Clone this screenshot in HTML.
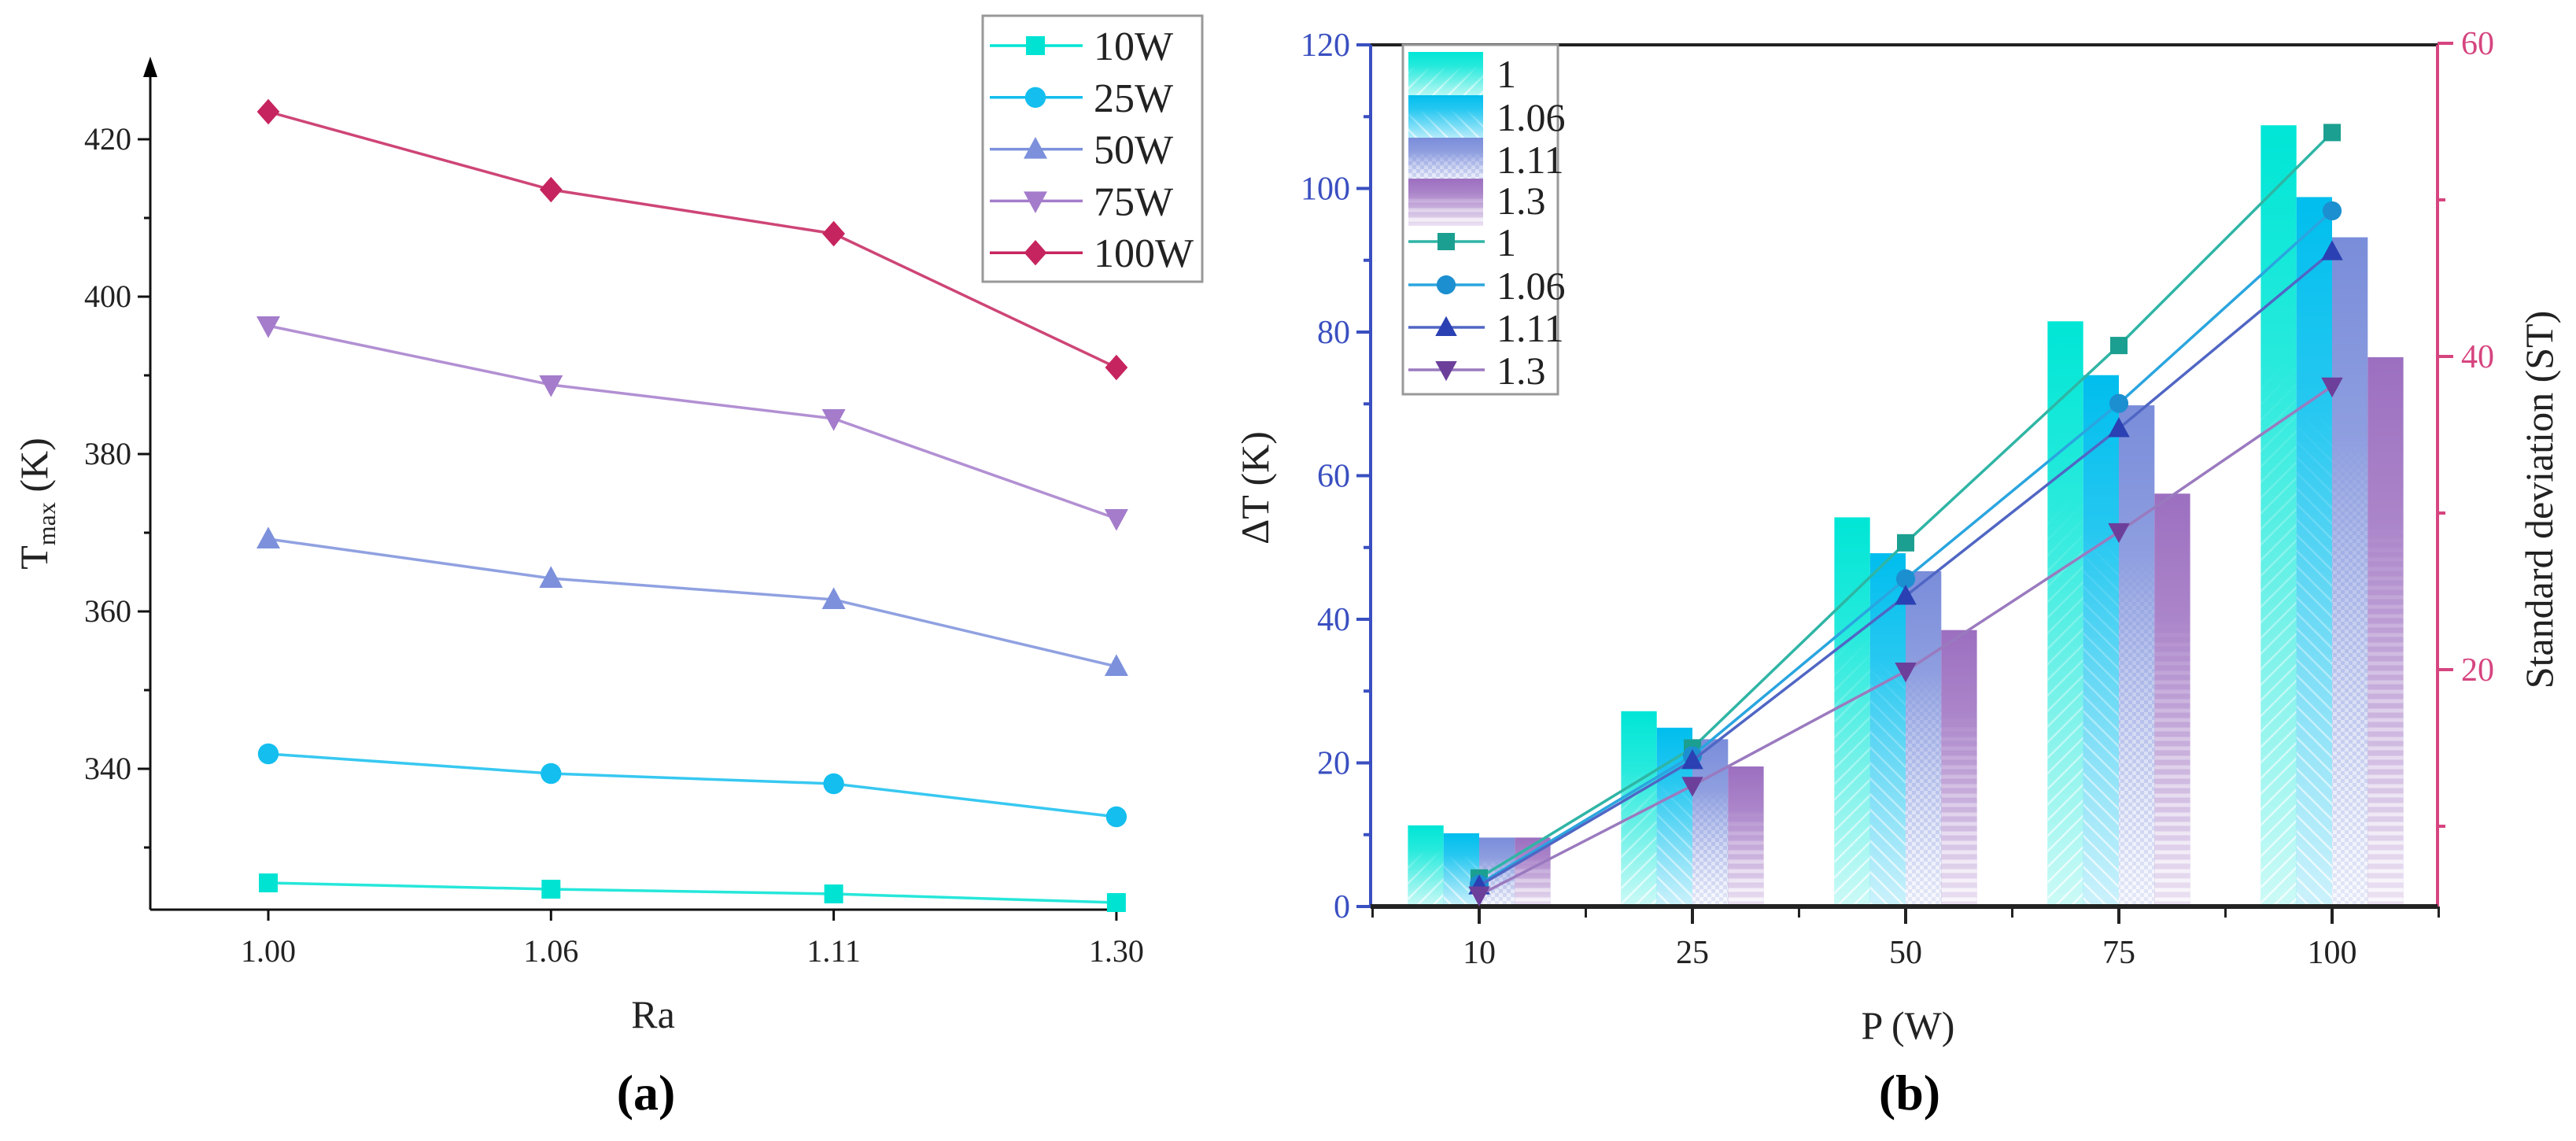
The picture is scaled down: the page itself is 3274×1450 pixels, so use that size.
<!DOCTYPE html>
<html><head><meta charset="utf-8">
<style>
html,body{margin:0;padding:0;background:#fff;}
svg{display:block;font-family:"Liberation Serif",serif;}
</style></head>
<body>
<svg id="fig" width="3274" height="1450" viewBox="0 0 3274 1450" xmlns="http://www.w3.org/2000/svg">
<defs>
  <pattern id="hatchA" width="14" height="14" patternUnits="userSpaceOnUse" patternTransform="rotate(45)">
    <rect width="14" height="14" fill="none"/><line x1="0" y1="0" x2="0" y2="14" stroke="#fff" stroke-width="5"/>
  </pattern>
  <pattern id="hatchB" width="14" height="14" patternUnits="userSpaceOnUse" patternTransform="rotate(-45)">
    <line x1="0" y1="0" x2="0" y2="14" stroke="#fff" stroke-width="5"/>
  </pattern>
  <pattern id="hatchC" width="10" height="10" patternUnits="userSpaceOnUse">
    <rect x="0" y="0" width="5" height="5" fill="#fff"/><rect x="5" y="5" width="5" height="5" fill="#fff"/>
  </pattern>
  <pattern id="hatchD" width="12" height="12" patternUnits="userSpaceOnUse">
    <line x1="0" y1="3" x2="12" y2="3" stroke="#fff" stroke-width="5"/>
  </pattern>
  <linearGradient id="hatchFade" x1="0" y1="0" x2="0" y2="1">
    <stop offset="0" stop-color="#000"/>
    <stop offset="0.3" stop-color="#000"/>
    <stop offset="1" stop-color="#fff"/>
  </linearGradient>
  <linearGradient id="fadeW" x1="0" y1="0" x2="0" y2="1">
    <stop offset="0" stop-color="#fff" stop-opacity="0"/>
    <stop offset="0.3" stop-color="#fff" stop-opacity="0.15"/>
    <stop offset="1" stop-color="#fff" stop-opacity="0.8"/>
  </linearGradient>
  <mask id="hmask" maskContentUnits="objectBoundingBox">
    <rect x="0" y="0" width="1" height="1" fill="url(#hatchFade)"/>
  </mask>
</defs>
<g id="chartA"></g>
<g id="chartB"></g>
</svg>
<script>
// ---------- Chart (a) data ----------
const raCategories = ["1.00", "1.06", "1.11", "1.30"];
const seriesNamesA = ["10W", "25W", "50W", "75W", "100W"];
const tmax10W = [325.5, 324.7, 324.1, 323.0];
const tmax25W = [341.9, 339.4, 338.1, 333.9];
const tmax50W = [369.2, 364.2, 361.5, 353.0];
const tmax75W = [396.3, 388.8, 384.5, 371.8];
const tmax100W = [423.5, 413.6, 408.0, 391.0];
const yTicksA = [340, 360, 380, 400, 420];

// ---------- Chart (b) data ----------
const powerCategories = ["10", "25", "50", "75", "100"];
const raNamesB = ["1", "1.06", "1.11", "1.3"];
const dT_1 = [11.3, 27.2, 54.2, 81.5, 108.8];
const dT_106 = [10.2, 24.9, 49.2, 74.0, 98.8];
const dT_111 = [9.6, 23.3, 46.7, 69.8, 93.2];
const dT_13 = [9.6, 19.5, 38.5, 57.5, 76.5];
const st_1 = [6.7, 15.0, 28.1, 40.7, 54.3];
const st_106 = [6.3, 14.5, 25.8, 37.0, 49.3];
const st_111 = [6.2, 14.2, 24.7, 35.4, 46.7];
const st_13 = [5.6, 12.6, 19.9, 28.8, 38.1];
const yTicksLeftB = [0, 20, 40, 60, 80, 100, 120];
const yTicksRightB = [20, 40, 60];

const NS = "http://www.w3.org/2000/svg";
function mk(tag, attrs, parent){const e=document.createElementNS(NS,tag);for(const k in attrs)e.setAttribute(k,attrs[k]);if(parent)parent.appendChild(e);return e;}
function marker(shape, x, y, s, color, parent){
  let e;
  if(shape==="square") e=mk("rect",{x:x-s,y:y-s,width:2*s,height:2*s,fill:color},parent);
  else if(shape==="circle") e=mk("circle",{cx:x,cy:y,r:s*1.1,fill:color},parent);
  else if(shape==="up") e=mk("polygon",{points:`${x},${y-s*1.3} ${x+s*1.25},${y+s} ${x-s*1.25},${y+s}`,fill:color},parent);
  else if(shape==="down") e=mk("polygon",{points:`${x},${y+s*1.3} ${x+s*1.25},${y-s} ${x-s*1.25},${y-s}`,fill:color},parent);
  else e=mk("polygon",{points:`${x},${y-s*1.35} ${x+s*1.2},${y} ${x},${y+s*1.35} ${x-s*1.2},${y}`,fill:color},parent);
  return e;
}

// ================= Chart A =================
(function(){
  const g=document.getElementById("chartA");
  const axX=191, axY=1156, xEnd=1430, yTop=95;
  const yA = v => 177 + (420 - v) * 10;
  const xA = i => 341 + i * 359.3;
  const ax=mk("g",{},g);
  
  
  mk("line",{x1:axX,y1:axY,x2:xEnd,y2:axY,stroke:"#111","stroke-width":3},ax);
  mk("line",{x1:axX,y1:axY,x2:axX,y2:yTop,stroke:"#111","stroke-width":3},ax);
  const arr=mk("polygon",{points:`${axX},72 ${axX+9},98 ${axX-9},98`,fill:"#000"},ax);
  
  
  for(let v=330; v<=420; v+=10){
    const major = yTicksA.includes(v);
    mk("line",{x1:axX-(major?16:8),y1:yA(v),x2:axX,y2:yA(v),stroke:"#111","stroke-width":3},ax);
  }
  yTicksA.forEach(v=>{
    const t=mk("text",{x:axX-24,y:yA(v)+13,"text-anchor":"end","font-size":40,fill:"#222"},ax);
    t.textContent=v;
    
    
  });
  raCategories.forEach((c,i)=>{
    mk("line",{x1:xA(i),y1:axY,x2:xA(i),y2:axY+14,stroke:"#111","stroke-width":3},ax);
    const t=mk("text",{x:xA(i),y:axY+66,"text-anchor":"middle","font-size":40,fill:"#222"},ax);
    t.textContent=c;
    
    
  });
  const yt=mk("text",{transform:"translate(60,640) rotate(-90)","text-anchor":"middle","font-size":50,fill:"#222"},g);
  yt.innerHTML='T<tspan font-size="32" dy="10">max</tspan><tspan dy="-10"> (K)</tspan>';
  
  
  const xt=mk("text",{x:830,y:1306,"text-anchor":"middle","font-size":50,fill:"#222"},g);
  xt.textContent="Ra";
  
  
  const pl=mk("text",{x:821,y:1410,"text-anchor":"middle","font-size":64,"font-weight":"bold",fill:"#000"},g);
  pl.textContent="(a)";
  
  

  const series=[tmax10W,tmax25W,tmax50W,tmax75W,tmax100W];
  const colors=["#00E3D3","#14BEEF","#7C90DC","#A47CCB","#C6245E"];
  const shapes=["square","circle","up","down","diamond"];
  series.forEach((s,k)=>{
    const sg=mk("g",{},g);
    
    
    mk("polyline",{points:s.map((v,i)=>`${xA(i)},${yA(v)}`).join(" "),fill:"none",stroke:colors[k],"stroke-width":3.5,opacity:0.85},sg);
    s.forEach((v,i)=>{
      const m=marker(shapes[k],xA(i),yA(v),12,colors[k],sg);
      
      
    });
  });
  const lg=mk("g",{},g);
  
  
  mk("rect",{x:1249,y:20,width:279,height:338,fill:"#fff",stroke:"#999","stroke-width":3},lg);
  seriesNamesA.forEach((n,k)=>{
    const y=58+k*65.8;
    const eg=mk("g",{},lg);
    
    
    mk("line",{x1:1258,y1:y,x2:1376,y2:y,stroke:colors[k],"stroke-width":3.5},eg);
    marker(shapes[k],1316,y,12,colors[k],eg);
    const t=mk("text",{x:1390,y:y+18,"font-size":52,fill:"#222"},eg);
    t.textContent=n;
  });
})();

// ================= Chart B =================
(function(){
  const g=document.getElementById("chartB");
  const L=1742, R=3098, T=57, B=1152;
  const yL = v => B - v * 9.125;
  const yR = v => 851 - (v - 20) * 19.9;
  const xC = i => 1880 + i * 271;
  const bw = 45.3;
  const blue="#3A4FC0", pink="#D6457F";
  const barSeries=[dT_1,dT_106,dT_111,dT_13];
  const barColors=["#00E6D6","#00BEEE","#7A8DDA","#9C6FC0"];
  const hatches=["hatchA","hatchB","hatchC","hatchD"];
  const lineSeries=[st_1,st_106,st_111,st_13];
  const lineColors=["#1B9F90","#1C8FD0","#2B40B2","#6C3F9B"];
  const lineStroke=["#2FB5A5","#2AA5DF","#5066C4","#9A7ABF"];
  const shapes=["square","circle","up","down"];

  const bars=mk("g",{},g);
  
  
  barSeries.forEach((s,k)=>{
    s.forEach((v,i)=>{
      const x=xC(i)-2*bw+k*bw, y=yL(v), h=B-y;
      const bg=mk("g",{},bars);
      
      
      mk("rect",{x:x,y:y,width:bw,height:h,fill:barColors[k]},bg);
      mk("rect",{x:x,y:y,width:bw,height:h,fill:"url(#fadeW)"},bg);
      mk("rect",{x:x,y:y,width:bw,height:h,fill:"url(#"+hatches[k]+")",opacity:0.75,mask:"url(#hmask)"},bg);
    });
  });

  const ax=mk("g",{},g);
  
  
  mk("line",{x1:L,y1:T,x2:R,y2:T,stroke:"#222","stroke-width":4},ax);
  mk("line",{x1:L,y1:T,x2:L,y2:B,stroke:blue,"stroke-width":4},ax);
  mk("line",{x1:R,y1:T,x2:R,y2:B,stroke:pink,"stroke-width":4},ax);
  mk("line",{x1:L,y1:B,x2:R,y2:B,stroke:"#222","stroke-width":6},ax);
  for(let v=0; v<=120; v+=10){
    const major=v%20===0;
    mk("line",{x1:L-(major?18:9),y1:yL(v),x2:L,y2:yL(v),stroke:blue,"stroke-width":4},ax);
  }
  yTicksLeftB.forEach(v=>{
    const t=mk("text",{x:L-26,y:yL(v)+14,"text-anchor":"end","font-size":42,fill:blue},ax);
    t.textContent=v;
    
    
  });
  for(let v=10; v<=60; v+=10){
    const major=v%20===0;
    mk("line",{x1:R,y1:yR(v),x2:R+(major?20:10),y2:yR(v),stroke:pink,"stroke-width":4},ax);
  }
  yTicksRightB.forEach(v=>{
    const t=mk("text",{x:R+30,y:yR(v)+14,"text-anchor":"start","font-size":42,fill:pink},ax);
    t.textContent=v;
    
    
  });
  powerCategories.forEach((c,i)=>{
    mk("line",{x1:xC(i),y1:B,x2:xC(i),y2:B+22,stroke:"#222","stroke-width":4},ax);
    mk("line",{x1:xC(i)-135.5,y1:B,x2:xC(i)-135.5,y2:B+14,stroke:"#222","stroke-width":3},ax);
    const t=mk("text",{x:xC(i),y:B+72,"text-anchor":"middle","font-size":42,fill:"#222"},ax);
    t.textContent=c;
    
    
  });
  mk("line",{x1:xC(4)+135.5,y1:B,x2:xC(4)+135.5,y2:B+14,stroke:"#222","stroke-width":3},ax);

  const ylt=mk("text",{transform:"translate(1612,620) rotate(-90)","text-anchor":"middle","font-size":50,fill:"#222"},g);
  ylt.textContent="ΔT (K)";
  
  
  const yrt=mk("text",{transform:"translate(3244,635) rotate(-90)","text-anchor":"middle","font-size":50,fill:"#222"},g);
  yrt.textContent="Standard deviation (ST)";
  
  
  const xt=mk("text",{x:2425,y:1320,"text-anchor":"middle","font-size":50,fill:"#222"},g);
  xt.textContent="P (W)";
  
  
  const pl=mk("text",{x:2427,y:1410,"text-anchor":"middle","font-size":64,"font-weight":"bold",fill:"#000"},g);
  pl.textContent="(b)";
  
  

  lineSeries.forEach((s,k)=>{
    const sg=mk("g",{},g);
    
    
    mk("polyline",{points:s.map((v,i)=>`${xC(i)},${yR(v)}`).join(" "),fill:"none",stroke:lineStroke[k],"stroke-width":3.5},sg);
    s.forEach((v,i)=>{
      const m=marker(shapes[k],xC(i),yR(v),11,lineColors[k],sg);
      
      
    });
  });

  const lg=mk("g",{},g);
  
  
  mk("rect",{x:1783,y:57,width:197,height:444,fill:"#fff",stroke:"#999","stroke-width":3},lg);
  const ly=[89,144,198,250,307,362,416,470];
  raNamesB.forEach((n,k)=>{
    const y=ly[k];
    const eg=mk("g",{},lg);
    
    
    mk("rect",{x:1790,y:y-23,width:95,height:60,fill:barColors[k]},eg);
    mk("rect",{x:1790,y:y-23,width:95,height:60,fill:"url(#fadeW)"},eg);
    mk("rect",{x:1790,y:y-23,width:95,height:60,fill:"url(#"+hatches[k]+")",opacity:0.75,mask:"url(#hmask)"},eg);
    const t=mk("text",{x:1902,y:y+22,"font-size":50,fill:"#222"},eg);
    t.textContent=n;
  });
  raNamesB.forEach((n,k)=>{
    const y=ly[k+4];
    const eg=mk("g",{},lg);
    
    
    mk("line",{x1:1790,y1:y,x2:1887,y2:y,stroke:lineStroke[k],"stroke-width":3.5},eg);
    marker(shapes[k],1838,y,11,lineColors[k],eg);
    const t=mk("text",{x:1902,y:y+18,"font-size":50,fill:"#222"},eg);
    t.textContent=n;
  });
})();
</script>
</body></html>
